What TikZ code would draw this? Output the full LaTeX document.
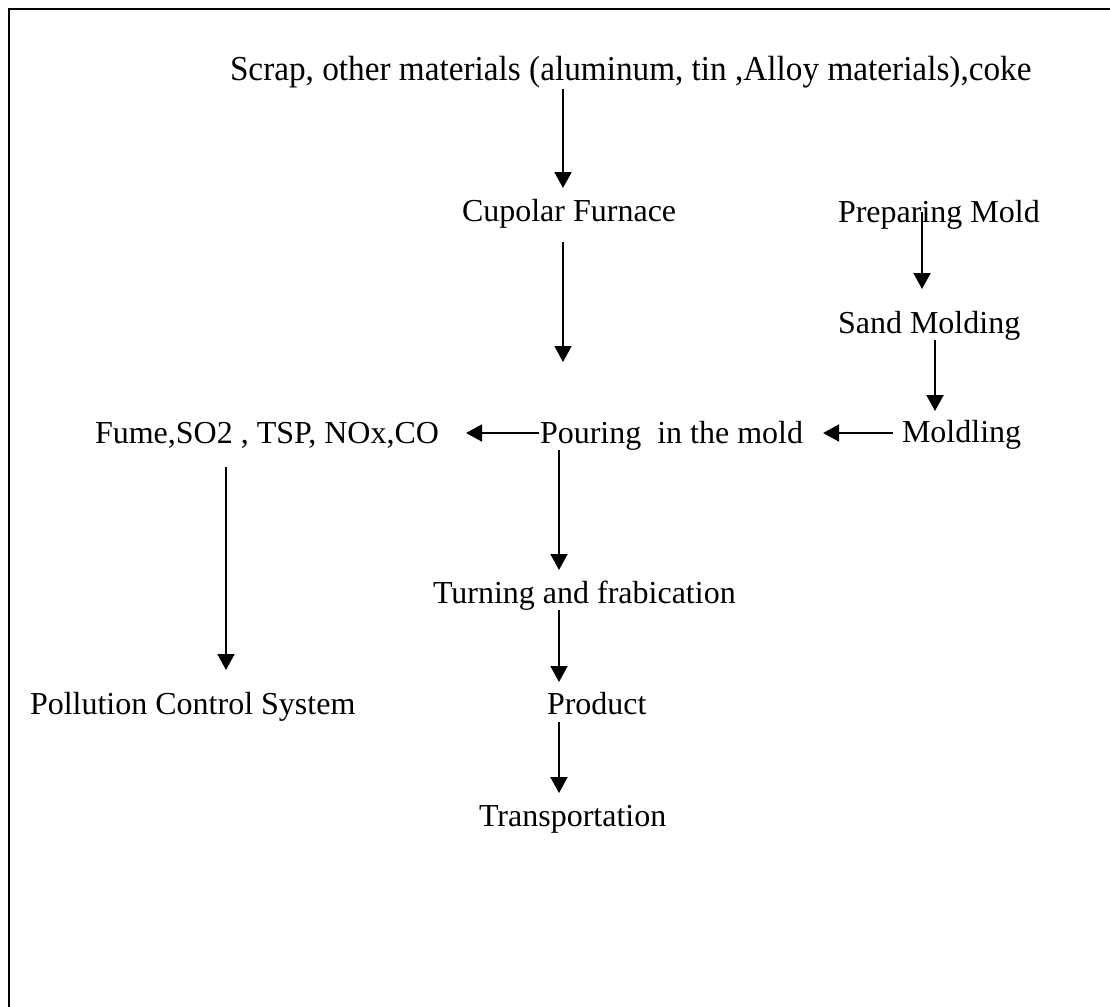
\documentclass[tikz,border=0pt]{standalone}
\usepackage{fontspec}
\setmainfont{Liberation Serif}
\usetikzlibrary{arrows.meta}
\begin{document}
\begin{tikzpicture}[x=1pt,y=-1pt,
  lbl/.style={inner sep=0pt,outer sep=0pt,anchor=base west,text height=22pt,text depth=7pt,
    font=\fontsize{32}{38}\selectfont},
  arr/.style={line width=2pt,-{Triangle[length=16pt,width=17pt]}},
  thinarr/.style={line width=1.6pt,-{Triangle[length=16pt,width=17pt]}}]
\useasboundingbox (0,0) rectangle (1110,1006);
\draw[line width=2.4pt] (1112,9) -- (9,9) -- (9,1008);
% nodes
\node[lbl] (title) at (230,81) {\fontsize{35}{40}\selectfont\scalebox{0.95}[1]{Scrap, other materials (aluminum, tin ,Alloy materials),coke}};
\node[lbl] (cup) at (462,221) {Cupolar Furnace};
\node[lbl] (prep) at (838,222) {Preparing Mold};
\node[lbl] (sand) at (838,333) {Sand Molding};
\node[lbl] (mold) at (902,442) {Moldling};
\node[lbl] (pour) at (540,443) {Pouring\ \ in the mold};
\node[lbl] (fume) at (95,443) {Fume,SO2 , TSP, NOx,CO};
\node[lbl] (poll) at (30,714) {Pollution Control System};
\node[lbl] (turn) at (433,603) {Turning and frabication};
\node[lbl] (prod) at (547,714) {Product};
\node[lbl] (trans) at (479,826) {Transportation};
% arrow x positions
\coordinate (xa) at (563,0);
\coordinate (xb) at (559,0);
\coordinate (xc) at (922,0);
\coordinate (xd) at (935,0);
\coordinate (xe) at (226,0);
\coordinate (ya) at (0,433);
% connectors
\draw[arr,shorten <=1pt,shorten >=11pt] (title.south -| xa) -- (cup.north -| xa);
\draw[thinarr,shorten <=14pt,shorten >=59pt] (cup.south -| xa) -- (pour.north -| xa);
\draw[arr,shorten <=-3pt,shorten >=22pt] (prep.center -| xc) -- (sand.north -| xc);
\draw[arr,shorten >=9pt] (sand.south -| xd) -- (mold.north -| xd);
\draw[arr,shorten <=9pt,shorten >=20pt] (mold.west |- ya) -- (pour.east |- ya);
\draw[arr,shorten <=1pt,shorten >=27pt] (pour.west |- ya) -- (fume.east |- ya);
\draw[thinarr,shorten <=17pt,shorten >=22pt] (fume.south -| xe) -- (poll.north -| xe);
\draw[arr,shorten >=11pt] (pour.south -| xb) -- (turn.north -| xb);
\draw[arr,shorten >=10pt] (turn.south -| xb) -- (prod.north -| xb);
\draw[arr,shorten <=1pt,shorten >=11pt] (prod.south -| xb) -- (trans.north -| xb);
\end{tikzpicture}
\end{document}
